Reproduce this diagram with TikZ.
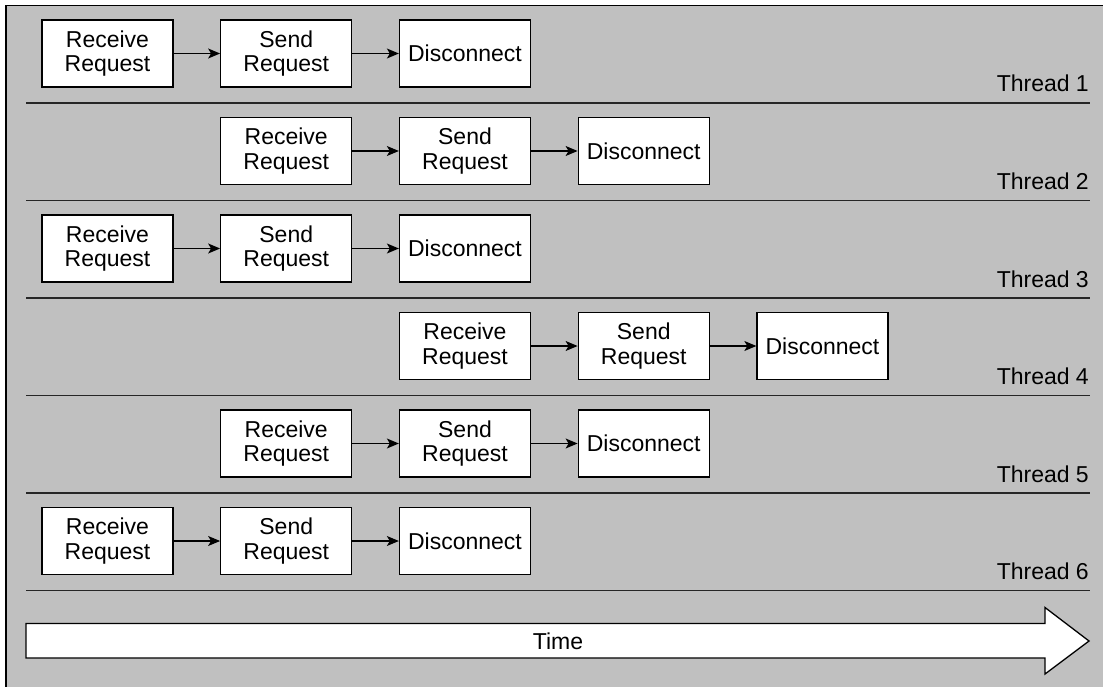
\documentclass[tikz,border=0pt]{standalone}
\usepackage{fontspec}
\setmainfont{Liberation Sans}
\usetikzlibrary{arrows.meta}
\definecolor{panel}{RGB}{192,192,192}
\begin{document}
\begin{tikzpicture}[x=1pt,y=-1pt,
  stepbox/.style={draw=black, line width=1.3pt, fill=white, minimum width=131pt, minimum height=67pt, inner sep=0pt, align=center, font=\fontsize{23}{24.5}\selectfont},
  flow/.style={-{Stealth[length=12pt,width=10pt,inset=3pt]}, line width=1.1pt},
  sepline/.style={line width=1.4pt, draw=black!85},
  lbl/.style={anchor=base east, font=\fontsize{23}{26}\selectfont, inner sep=0pt}]
\useasboundingbox (0,0) rectangle (1103,687);
\fill[white] (0,0) rectangle (1103,687);
\fill[panel] (6,5.5) rectangle (1103,687);
\draw[line width=1.4pt] (6,687) -- (6,5.5) -- (1103,5.5);
% rows: index / start column
\foreach \r/\c in {1/0,2/1,3/0,4/2,5/1,6/0}{
  \pgfmathsetmacro{\yc}{53.5+97.5*(\r-1)}
  \pgfmathsetmacro{\xa}{107.5+178.75*\c}
  \pgfmathsetmacro{\xb}{107.5+178.75*(\c+1)}
  \pgfmathsetmacro{\xc}{107.5+178.75*(\c+2)}
  \node[stepbox] (rcv\r) at (\xa,\yc) {Receive\\Request};
  \node[stepbox] (snd\r) at (\xb,\yc) {Send\\Request};
  \node[stepbox] (dis\r) at (\xc,\yc) {Disconnect};
  \draw[flow] (rcv\r) -- (snd\r);
  \draw[flow] (snd\r) -- (dis\r);
  \pgfmathsetmacro{\yl}{92+97.5*(\r-1)}
  \node[lbl] (thr\r) at (1089,\yl) {Thread \r};
  \pgfmathsetmacro{\ys}{103+97.5*(\r-1)}
  \coordinate (sl\r) at (26,\ys);
  \coordinate (sr\r) at (1090,\ys);
  \draw[sepline] (sl\r) -- (sr\r);
}
% time arrow
\draw[fill=white, line width=1.3pt] (26,623.5) -- (1045,623.5) -- (1045,607.5) -- (1089,641) -- (1045,674) -- (1045,658) -- (26,658) -- cycle;
\node[font=\fontsize{23}{26}\selectfont] (time) at (558,641) {Time};
\end{tikzpicture}
\end{document}
